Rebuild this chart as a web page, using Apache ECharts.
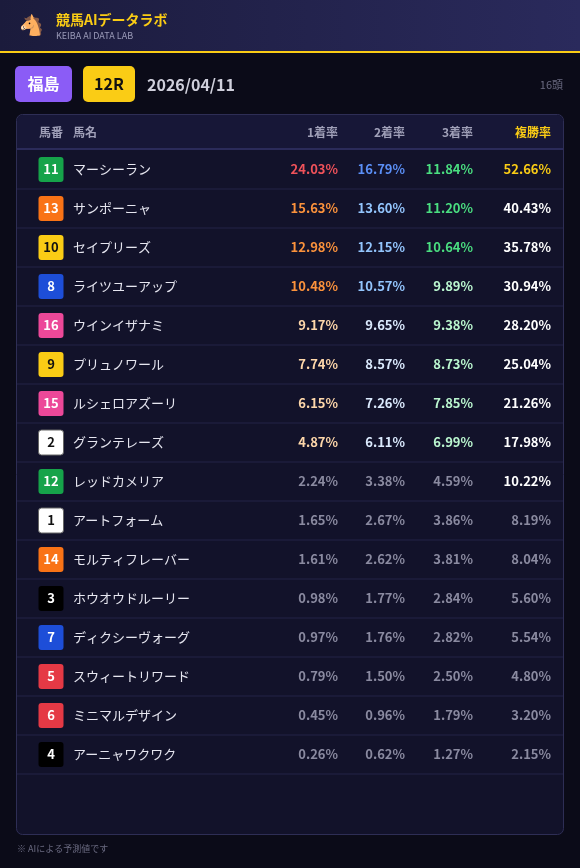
<!DOCTYPE html>
<html><head><meta charset="utf-8">
<script src="https://cdn.jsdelivr.net/npm/echarts@6/dist/echarts.min.js"></script>
<style>html,body{margin:0;padding:0;background:#0b0b18}#c{width:580px;height:868px}</style>
</head><body><div id="c"></div>
<script>
var numbers = [11, 13, 10, 8, 16, 9, 15, 2, 12, 1, 14, 3, 7, 5, 6, 4];
var names = ['マーシーラン', 'サンポーニャ', 'セイプリーズ', 'ライツユーアップ', 'ウインイザナミ', 'プリュノワール', 'ルシェロアズーリ', 'グランテレーズ', 'レッドカメリア', 'アートフォーム', 'モルティフレーバー', 'ホウオウドルーリー', 'ディクシーヴォーグ', 'スウィートリワード', 'ミニマルデザイン', 'アーニャワクワク'];
var win = [24.03, 15.63, 12.98, 10.48, 9.17, 7.74, 6.15, 4.87, 2.24, 1.65, 1.61, 0.98, 0.97, 0.79, 0.45, 0.26];
var second = [16.79, 13.60, 12.15, 10.57, 9.65, 8.57, 7.26, 6.11, 3.38, 2.67, 2.62, 1.77, 1.76, 1.50, 0.96, 0.62];
var third = [11.84, 11.20, 10.64, 9.89, 9.38, 8.73, 7.85, 6.99, 4.59, 3.86, 3.81, 2.84, 2.82, 2.50, 1.79, 1.27];
var place = [52.66, 40.43, 35.78, 30.94, 28.20, 25.04, 21.26, 17.98, 10.22, 8.19, 8.04, 5.60, 5.54, 4.80, 3.20, 2.15];
var headers = ['馬番', '馬名', '1着率', '2着率', '3着率', '複勝率'];

var FONT = 'Noto Sans CJK JP, sans-serif';
var GRAY = '#8a8aa0';
function badge(n) {
  if (n <= 2) return ['#ffffff', '#111111', '#666'];
  if (n <= 4) return ['#000000', '#ffffff', null];
  if (n <= 6) return ['#e53945', '#ffffff', null];
  if (n <= 8) return ['#1d4ed8', '#ffffff', null];
  if (n <= 10) return ['#facc15', '#111111', null];
  if (n <= 12) return ['#16a34a', '#ffffff', null];
  if (n <= 14) return ['#f97316', '#ffffff', null];
  return ['#ec4899', '#ffffff', null];
}
function cWin(v) { return v >= 20 ? '#f0525a' : v >= 10 ? '#fb923c' : v >= 3 ? '#fed7aa' : GRAY; }
function cSec(v) { return v >= 15 ? '#5b8ff7' : v >= 10 ? '#93c5fd' : v >= 5 ? '#dbeafe' : GRAY; }
function cThi(v) { return v >= 10 ? '#4ade80' : v >= 5 ? '#bbf7d0' : GRAY; }
function cPla(v) { return v >= 50 ? '#facc15' : v >= 10 ? '#ffffff' : GRAY; }

var rows = numbers.map(function (n, i) { return [i, n]; });
var chart = echarts.init(document.getElementById('c'));
chart.setOption({
  backgroundColor: '#0b0b18',
  animation: false,
  grid: { left: 17, right: 17, top: 150, height: 624 },
  xAxis: { type: 'value', min: 0, max: 1, show: false },
  yAxis: { type: 'category', inverse: true, data: numbers.map(String), show: false },
  graphic: [
    { type: 'rect', shape: { x: 0, y: 0, width: 580, height: 51 }, style: { fill: new echarts.graphic.LinearGradient(0, 0, 1, 0, [{ offset: 0, color: '#1b1b3c' }, { offset: 1, color: '#2a2a5c' }]) } },
    { type: 'rect', shape: { x: 0, y: 51, width: 580, height: 2 }, style: { fill: '#facc15' } },
    { type: 'text', x: 19, y: 16, style: { text: '🐴', fontSize: 20, fill: '#8b5a3c' } },
    { type: 'text', x: 56, y: 20, style: { text: '競馬AIデータラボ', font: 'bold 14px ' + FONT, fill: '#facc15', verticalAlign: 'middle' } },
    { type: 'text', x: 56, y: 36, style: { text: 'KEIBA AI DATA LAB', font: '9px ' + FONT, fill: '#9a9ab8', verticalAlign: 'middle' } },
    { type: 'rect', shape: { x: 15, y: 66, width: 57, height: 36, r: 5 }, style: { fill: '#8b5cf6' } },
    { type: 'text', x: 43.5, y: 84, style: { text: '福島', font: 'bold 16px ' + FONT, fill: '#fff', align: 'center', verticalAlign: 'middle' } },
    { type: 'rect', shape: { x: 83, y: 66, width: 52, height: 36, r: 5 }, style: { fill: '#facc15' } },
    { type: 'text', x: 109, y: 84, style: { text: '12R', font: 'bold 16px ' + FONT, fill: '#111', align: 'center', verticalAlign: 'middle' } },
    { type: 'text', x: 147, y: 85, style: { text: '2026/04/11', font: 'bold 16px ' + FONT, fill: '#d0d0dc', verticalAlign: 'middle' } },
    { type: 'text', x: 563, y: 85, style: { text: '16頭', font: '11px ' + FONT, fill: '#6a6a80', align: 'right', verticalAlign: 'middle' } },
    { type: 'rect', z: -10, shape: { x: 16.5, y: 114.5, width: 547, height: 720, r: 6 }, style: { fill: '#12122a', stroke: '#2e2e55', lineWidth: 1 } },
    { type: 'rect', z: -9, shape: { x: 17, y: 115, width: 546, height: 33, r: [6, 6, 0, 0] }, style: { fill: '#171737' } },
    { type: 'rect', z: -9, shape: { x: 17, y: 148, width: 546, height: 2 }, style: { fill: '#2b2b5a' } },
    { type: 'text', x: 51, y: 132, style: { text: headers[0], font: 'bold 12px ' + FONT, fill: '#a0a0b8', align: 'center', verticalAlign: 'middle' } },
    { type: 'text', x: 73, y: 132, style: { text: headers[1], font: 'bold 12px ' + FONT, fill: '#a0a0b8', verticalAlign: 'middle' } },
    { type: 'text', x: 338, y: 132, style: { text: headers[2], font: 'bold 12px ' + FONT, fill: '#a0a0b8', align: 'right', verticalAlign: 'middle' } },
    { type: 'text', x: 405, y: 132, style: { text: headers[3], font: 'bold 12px ' + FONT, fill: '#a0a0b8', align: 'right', verticalAlign: 'middle' } },
    { type: 'text', x: 473, y: 132, style: { text: headers[4], font: 'bold 12px ' + FONT, fill: '#a0a0b8', align: 'right', verticalAlign: 'middle' } },
    { type: 'text', x: 551, y: 132, style: { text: headers[5], font: 'bold 12px ' + FONT, fill: '#facc15', align: 'right', verticalAlign: 'middle' } },
    { type: 'text', x: 17, y: 849, style: { text: '※ AIによる予測値です', font: '9px ' + FONT, fill: '#6a6a80', verticalAlign: 'middle' } }
  ],
  series: [{
    type: 'custom',
    data: rows,
    encode: { y: 0 },
    renderItem: function (params, api) {
      var i = api.value(0);
      var yc = api.coord([0, i])[1];
      var h = api.size([0, 1])[1];
      var n = numbers[i];
      var b = badge(n);
      var numFont = 'bold 13px ' + FONT;
      function t(x, txt, col, al, font) {
        return { type: 'text', style: { x: x, y: yc, text: txt, fill: col, align: al || 'right', verticalAlign: 'middle', font: font || numFont } };
      }
      return { type: 'group', children: [
        { type: 'rect', shape: { x: 17, y: yc + h / 2 - 0.5, width: 546, height: 1 }, style: { fill: '#222246' } },
        { type: 'rect', shape: { x: 38.5, y: yc - 12.5, width: 25, height: 25, r: 3 }, style: { fill: b[0], stroke: b[2], lineWidth: b[2] ? 1 : 0 } },
        t(51, String(n), b[1], 'center', 'bold 13px ' + FONT),
        t(73, names[i], '#e6e6f0', 'left', '13px ' + FONT),
        t(338, win[i].toFixed(2) + '%', cWin(win[i])),
        t(405, second[i].toFixed(2) + '%', cSec(second[i])),
        t(473, third[i].toFixed(2) + '%', cThi(third[i])),
        t(551, place[i].toFixed(2) + '%', cPla(place[i]))
      ] };
    }
  }]
});
</script></body></html>
